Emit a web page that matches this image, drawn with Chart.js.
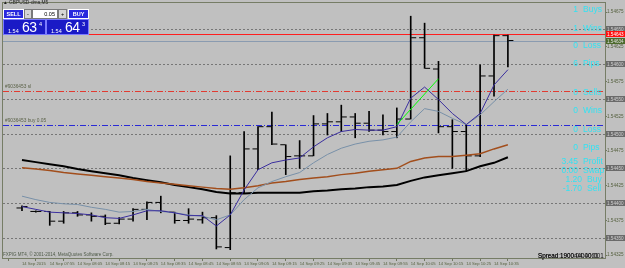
<!DOCTYPE html>
<html>
<head>
<title>GBPUSD-dma,M5</title>
<script src="https://cdn.jsdelivr.net/npm/chart.js"></script>
<style>
    body { margin: 0; background: #c0c0c0; font-family: 'Liberation Sans', sans-serif; }
    #wrap { position: relative; width: 625px; height: 268px; overflow: hidden; background: #c0c0c0; }
    #chart { position: absolute; left: 0; top: 0; }
    .abs { position: absolute; white-space: pre; }
    #title { left: 3px; top: 0px; font-size: 4.8px; line-height: 6px; color: #1e1e1e; }
    .btn { position: absolute; top: 9px; height: 10px; box-sizing: border-box; border: 1px solid #fff;
           background: #2a2ade; color: #fff; font-size: 5.5px; font-weight: bold; text-align: center; line-height: 8px; }
    .pm { background: #d6d6d6; border: 1px solid #7a7a7a; color: #000; font-weight: normal; }
    .inp { background: #fff; border: 1px solid #7a7a7a; color: #000; font-weight: normal; text-align: right; padding-right: 2px; }
    .pbox { position: absolute; top: 19px; height: 16px; width: 43px; box-sizing: border-box;
            border: 1px solid #7b7bff; background: #1a1ac6; color: #fff; }
    .pbox span { position: absolute; white-space: pre; }
    .p-small { font-size: 5.5px; top: 8px; }
    .p-big { font-size: 14px; line-height: 14px; top: 0px; letter-spacing: -0.5px; }
    .p-sup { font-size: 5.5px; top: 1px; }
    .stat { position: absolute; color: #33e2f2; font-size: 8.5px; line-height: 9px; white-space: pre; }
    .num { text-align: right; }
    #copy { left: 3px; top: 252px; font-size: 4.5px; line-height: 6px; color: #4e5a48; }
    .spread { left: 538px; top: 252px; font-size: 6.3px; line-height: 7px; color: #111; }
</style>
</head>
<body>
<div id="wrap">
    <canvas id="chart" width="625" height="268"></canvas>

    <div id="title" class="abs">&#9650; GBPUSD-dma,M5</div>
    <div class="btn" style="left:3px;width:21px;">SELL</div>
    <div class="btn pm" style="left:24px;width:8px;">-</div>
    <div class="btn inp" style="left:32px;width:26px;">0.05</div>
    <div class="btn pm" style="left:58px;width:9px;">+</div>
    <div class="btn" style="left:68px;width:21px;">BUY</div>
    <div class="pbox" style="left:3px;">
        <span class="p-small" style="left:4px;">1.54</span>
        <span class="p-big" style="left:18px;">63</span>
        <span class="p-sup" style="left:35px;">4</span>
    </div>
    <div class="pbox" style="left:46px;">
        <span class="p-small" style="left:4px;">1.54</span>
        <span class="p-big" style="left:18px;">64</span>
        <span class="p-sup" style="left:35px;">3</span>
    </div>

    <div id="stats"></div>

    <div id="copy" class="abs">FXPIG MT4, &copy; 2001-2014, MetaQuotes Software Corp.</div>
    <div class="abs spread">Spread:1900:04:40:001</div>
    <div class="abs spread">Spread 19004400001</div>
</div>

<script>
    // bar times (M5), 14 Sep 2015
    const barTimes = ['07:45', '07:50', '07:55', '08:00', '08:05', '08:10', '08:15', '08:20', '08:25',
        '08:30', '08:35', '08:40', '08:45', '08:50', '08:55', '09:00', '09:05', '09:10', '09:15',
        '09:20', '09:25', '09:30', '09:35', '09:40', '09:45', '09:50', '09:55', '10:00', '10:05',
        '10:10', '10:15', '10:20', '10:25', '10:30', '10:35', '10:40'];

    const opens = [1.54393, 1.54388, 1.54388, 1.54374, 1.54386, 1.54383, 1.54381, 1.54371, 1.54377,
        1.54391, 1.54401, 1.54387, 1.54375, 1.54376, 1.54379, 1.54336, 1.54415, 1.54478, 1.54510,
        1.54484, 1.54468, 1.54468, 1.54514, 1.54517, 1.54524, 1.54515, 1.54505, 1.54503, 1.54521,
        1.54638, 1.54593, 1.54510, 1.54503, 1.54468, 1.54583, 1.54641];
    const highs = [1.54396, 1.54389, 1.54388, 1.54388, 1.54388, 1.54386, 1.54383, 1.54379, 1.54392,
        1.54402, 1.54410, 1.54387, 1.54392, 1.54387, 1.54382, 1.54468, 1.54503, 1.54510, 1.54531,
        1.54484, 1.54490, 1.54526, 1.54529, 1.54541, 1.54529, 1.54532, 1.54527, 1.54537, 1.54669,
        1.54659, 1.54604, 1.54520, 1.54513, 1.54599, 1.54642, 1.54642];
    const lows = [1.54389, 1.54387, 1.54368, 1.54371, 1.54381, 1.54374, 1.54369, 1.54370, 1.54374,
        1.54376, 1.54386, 1.54371, 1.54371, 1.54371, 1.54334, 1.54333, 1.54414, 1.54448, 1.54484,
        1.54441, 1.54450, 1.54468, 1.54498, 1.54503, 1.54494, 1.54503, 1.54498, 1.54494, 1.54521,
        1.54594, 1.54501, 1.54450, 1.54446, 1.54467, 1.54554, 1.54596];
    const closes = [1.54395, 1.54388, 1.54374, 1.54386, 1.54383, 1.54381, 1.54371, 1.54377, 1.54391,
        1.54401, 1.54388, 1.54375, 1.54377, 1.54379, 1.54337, 1.54415, 1.54478, 1.54510, 1.54485,
        1.54467, 1.54468, 1.54514, 1.54517, 1.54524, 1.54515, 1.54505, 1.54503, 1.54521, 1.54638,
        1.54594, 1.54510, 1.54503, 1.54468, 1.54583, 1.54641, 1.54634];

    // moving averages
    const maFast = [1.54395, 1.54391, 1.54387, 1.54386, 1.54385, 1.54383, 1.54379, 1.54378, 1.54383,
        1.54389, 1.54389, 1.54386, 1.54382, 1.54382, 1.54367, 1.54383, 1.54419, 1.54448, 1.54458,
        1.54462, 1.54465, 1.54481, 1.54494, 1.54503, 1.54506, 1.54505, 1.54505, 1.54510, 1.54551,
        1.54567, 1.54549, 1.54529, 1.54513, 1.54529, 1.54570, 1.54592];
    const maMid = [1.54410, 1.54405, 1.54401, 1.54399, 1.54398, 1.54394, 1.54391, 1.54387, 1.54388,
        1.54391, 1.54388, 1.54386, 1.54383, 1.54381, 1.54376, 1.54383, 1.54405, 1.54422, 1.54431,
        1.54438, 1.54444, 1.54458, 1.54470, 1.54479, 1.54485, 1.54489, 1.54491, 1.54495, 1.54517,
        1.54536, 1.54532, 1.54522, 1.54513, 1.54527, 1.54546, 1.54564];
    const maSlow = [1.54451, 1.54449, 1.54447, 1.54444, 1.54442, 1.54440, 1.54438, 1.54436, 1.54434,
        1.54431, 1.54429, 1.54427, 1.54425, 1.54423, 1.54421, 1.54420, 1.54422, 1.54425, 1.54429,
        1.54431, 1.54434, 1.54436, 1.54438, 1.54441, 1.54443, 1.54446, 1.54448, 1.54450, 1.54460,
        1.54465, 1.54467, 1.54467, 1.54469, 1.54471, 1.54478, 1.54484];
    const maLong = [1.54462, 1.54459, 1.54456, 1.54453, 1.54449, 1.54446, 1.54443, 1.54440, 1.54436,
        1.54433, 1.54430, 1.54426, 1.54423, 1.54420, 1.54416, 1.54414, 1.54414, 1.54415, 1.54415,
        1.54415, 1.54415, 1.54417, 1.54418, 1.54420, 1.54421, 1.54423, 1.54424, 1.54426, 1.54432,
        1.54437, 1.54440, 1.54443, 1.54446, 1.54453, 1.54458, 1.54466];

    // green segment from the buy entry
    const signalBars = [27, 30];
    const signalPrices = [1.54513, 1.54579];

    // axes
    const tickBars = [0, 2, 4, 6, 8, 10, 12, 14, 16, 18, 20, 22, 24, 26, 28, 30, 32, 34];
    const timeLabels = ['14 Sep 2015', '14 Sep 07:55', '14 Sep 08:05', '14 Sep 08:15', '14 Sep 08:25',
        '14 Sep 08:35', '14 Sep 08:45', '14 Sep 08:55', '14 Sep 09:05', '14 Sep 09:15', '14 Sep 09:25',
        '14 Sep 09:35', '14 Sep 09:45', '14 Sep 09:55', '14 Sep 10:05', '14 Sep 10:15', '14 Sep 10:25',
        '14 Sep 10:35'];
    const priceTicks = [1.54675, 1.54625, 1.54575, 1.54525, 1.54475, 1.54425, 1.54375, 1.54325];
    const roundLevels = [1.54650, 1.54600, 1.54550, 1.54500, 1.54450, 1.54400, 1.54350];

    const askPrice = 1.54643;
    const bidPrice = 1.54634;
    const stopLoss = 1.54561;
    const openPrice = 1.54513;
    const orderLabels = ['#9036453 sl', '#9036453 buy 0.05'];

    // stats panel on the right
    const statNums = ['1', '1', '0', '6', '0', '0', '0', '0', '3.45', '0.00', '1.20', '-1.70'];
    const statWords = ['Buys', 'Wins', 'Loss', 'Pips', 'Sells', 'Wins', 'Loss', 'Pips', 'Profit', 'Swap', 'Buy', 'Sell'];
    const statRows = [10, 29, 46, 64, 93, 111, 130, 148, 162, 171, 180, 189];

    const statsEl = document.getElementById('stats');
    statNums.forEach((n, i) => {
        const shift = i >= 10 ? 4 : 0;
        const top = statRows[i] - 5;
        statsEl.innerHTML += `<div class="stat num" style="left:520px;width:${58 + shift}px;top:${top}px;">${n}</div>` +
            `<div class="stat" style="left:${583 + shift}px;top:${top}px;">${statWords[i]}</div>`;
    });

    function hline(ctx, a, py, color, dash) {
        const yy = Math.round(py) + 0.5;
        ctx.beginPath();
        ctx.strokeStyle = color;
        ctx.setLineDash(dash);
        ctx.moveTo(a.left, yy);
        ctx.lineTo(a.right, yy);
        ctx.stroke();
    }

    function axisBox(ctx, a, py, bg, fg, text) {
        const yy = Math.round(py);
        ctx.fillStyle = bg;
        ctx.fillRect(a.right + 1, yy - 3, 20, 6);
        ctx.fillStyle = fg;
        ctx.fillText(text, a.right + 2, yy + 0.5);
    }

    const mt4Plugin = {
        id: 'mt4',
        beforeDatasetsDraw(chart) {
            const { ctx, chartArea: a, scales: { y } } = chart;
            ctx.save();
            ctx.lineWidth = 1;
            roundLevels.forEach(v => hline(ctx, a, y.getPixelForValue(v), '#767676', [2, 2]));
            hline(ctx, a, y.getPixelForValue(stopLoss), '#e23a30', [6, 2, 1, 2]);
            hline(ctx, a, y.getPixelForValue(openPrice), '#2a2ad6', [6, 2, 1, 2]);
            hline(ctx, a, y.getPixelForValue(bidPrice), '#8a9bb0', []);
            hline(ctx, a, y.getPixelForValue(askPrice), '#ff1e1e', []);
            ctx.fillStyle = '#5b6248';
            ctx.font = '4.8px "Liberation Sans"';
            ctx.textBaseline = 'bottom';
            ctx.fillText(orderLabels[0], a.left + 2, y.getPixelForValue(stopLoss) - 2);
            ctx.fillText(orderLabels[1], a.left + 2, y.getPixelForValue(openPrice) - 2);
            ctx.restore();
        },
        afterDatasetDraw(chart, args) {
            if (args.index !== 0) return;
            const { ctx, chartArea: a, scales: { x, y } } = chart;
            ctx.save();
            ctx.beginPath();
            ctx.rect(a.left, a.top, a.right - a.left, a.bottom - a.top);
            ctx.clip();
            ctx.fillStyle = '#000';
            for (let i = 0; i < opens.length; i++) {
                const px = x.getPixelForValue(i);
                ctx.fillRect(px - 5.5, y.getPixelForValue(opens[i]) - 0.5, 5, 1);
                ctx.fillRect(px + 0.5, y.getPixelForValue(closes[i]) - 0.5, 5, 1);
            }
            ctx.restore();
        },
        afterDraw(chart) {
            const { ctx, chartArea: a, scales: { y } } = chart;
            ctx.save();
            ctx.strokeStyle = '#767d66';
            ctx.lineWidth = 1;
            ctx.strokeRect(a.left - 0.5, a.top - 0.5, a.right - a.left + 1, a.bottom - a.top + 1);
            ctx.font = '4.6px "Liberation Sans"';
            ctx.textBaseline = 'middle';
            roundLevels.forEach(v => axisBox(ctx, a, y.getPixelForValue(v), '#6a6a6a', '#cfcfcf', v.toFixed(5)));
            axisBox(ctx, a, y.getPixelForValue(askPrice), '#ff1010', '#ffffff', askPrice.toFixed(5));
            axisBox(ctx, a, y.getPixelForValue(bidPrice), '#4c6a2c', '#e0e0e0', bidPrice.toFixed(5));
            ctx.restore();
        }
    };

    const idx = barTimes.map((_, i) => i);
    const lineSet = (label, values, color, width, order) => ({
        type: 'line', label: label, order: order,
        data: idx.map(i => ({ x: i, y: values[i] })),
        borderColor: color, borderWidth: width, pointRadius: 0, tension: 0
    });

    const ctx = document.getElementById('chart').getContext('2d');
    new Chart(ctx, {
        data: {
            datasets: [
                {
                    type: 'bar', label: 'GBPUSD-dma,M5', order: 10,
                    data: idx.map(i => ({ x: i, y: [lows[i], highs[i]] })),
                    backgroundColor: '#000', barThickness: 1, grouped: false
                },
                lineSet('MA long', maLong, '#000000', 2, 5),
                lineSet('MA slow', maSlow, '#a24e1c', 1.5, 4),
                lineSet('MA mid', maMid, '#7890a8', 1, 3),
                lineSet('MA fast', maFast, '#3a2e9e', 1, 2),
                {
                    type: 'line', label: 'signal', order: 1,
                    data: signalBars.map((b, i) => ({ x: b, y: signalPrices[i] })),
                    borderColor: '#00ff00', borderWidth: 1, pointRadius: 0
                }
            ]
        },
        options: {
            responsive: false,
            animation: false,
            devicePixelRatio: 1,
            layout: { padding: { left: 3, top: 3, right: 0, bottom: 0 } },
            plugins: { legend: { display: false }, tooltip: { enabled: false } },
            scales: {
                x: {
                    type: 'linear', min: -0.163, max: 40.79,
                    afterBuildTicks: s => { s.ticks = tickBars.map(v => ({ value: v })); },
                    afterFit: s => { s.height = 10; },
                    grid: { drawOnChartArea: false, tickLength: 3, color: '#6f7760' },
                    border: { display: false },
                    ticks: {
                        autoSkip: false, maxRotation: 0, align: 'start', padding: 0,
                        color: '#56613f', font: { size: 4.2, family: 'Liberation Sans' },
                        callback: (v, i) => timeLabels[i]
                    }
                },
                y: {
                    position: 'right', min: 1.54321, max: 1.54688,
                    afterBuildTicks: s => { s.ticks = priceTicks.map(v => ({ value: v })); },
                    afterFit: s => { s.width = 20; },
                    grid: { drawOnChartArea: false, tickLength: 2, color: '#6f7760' },
                    border: { display: false },
                    ticks: {
                        padding: 0, color: '#56613f', font: { size: 4.6, family: 'Liberation Sans' },
                        callback: v => v.toFixed(5)
                    }
                }
            }
        },
        plugins: [mt4Plugin]
    });
</script>
</body>
</html>
